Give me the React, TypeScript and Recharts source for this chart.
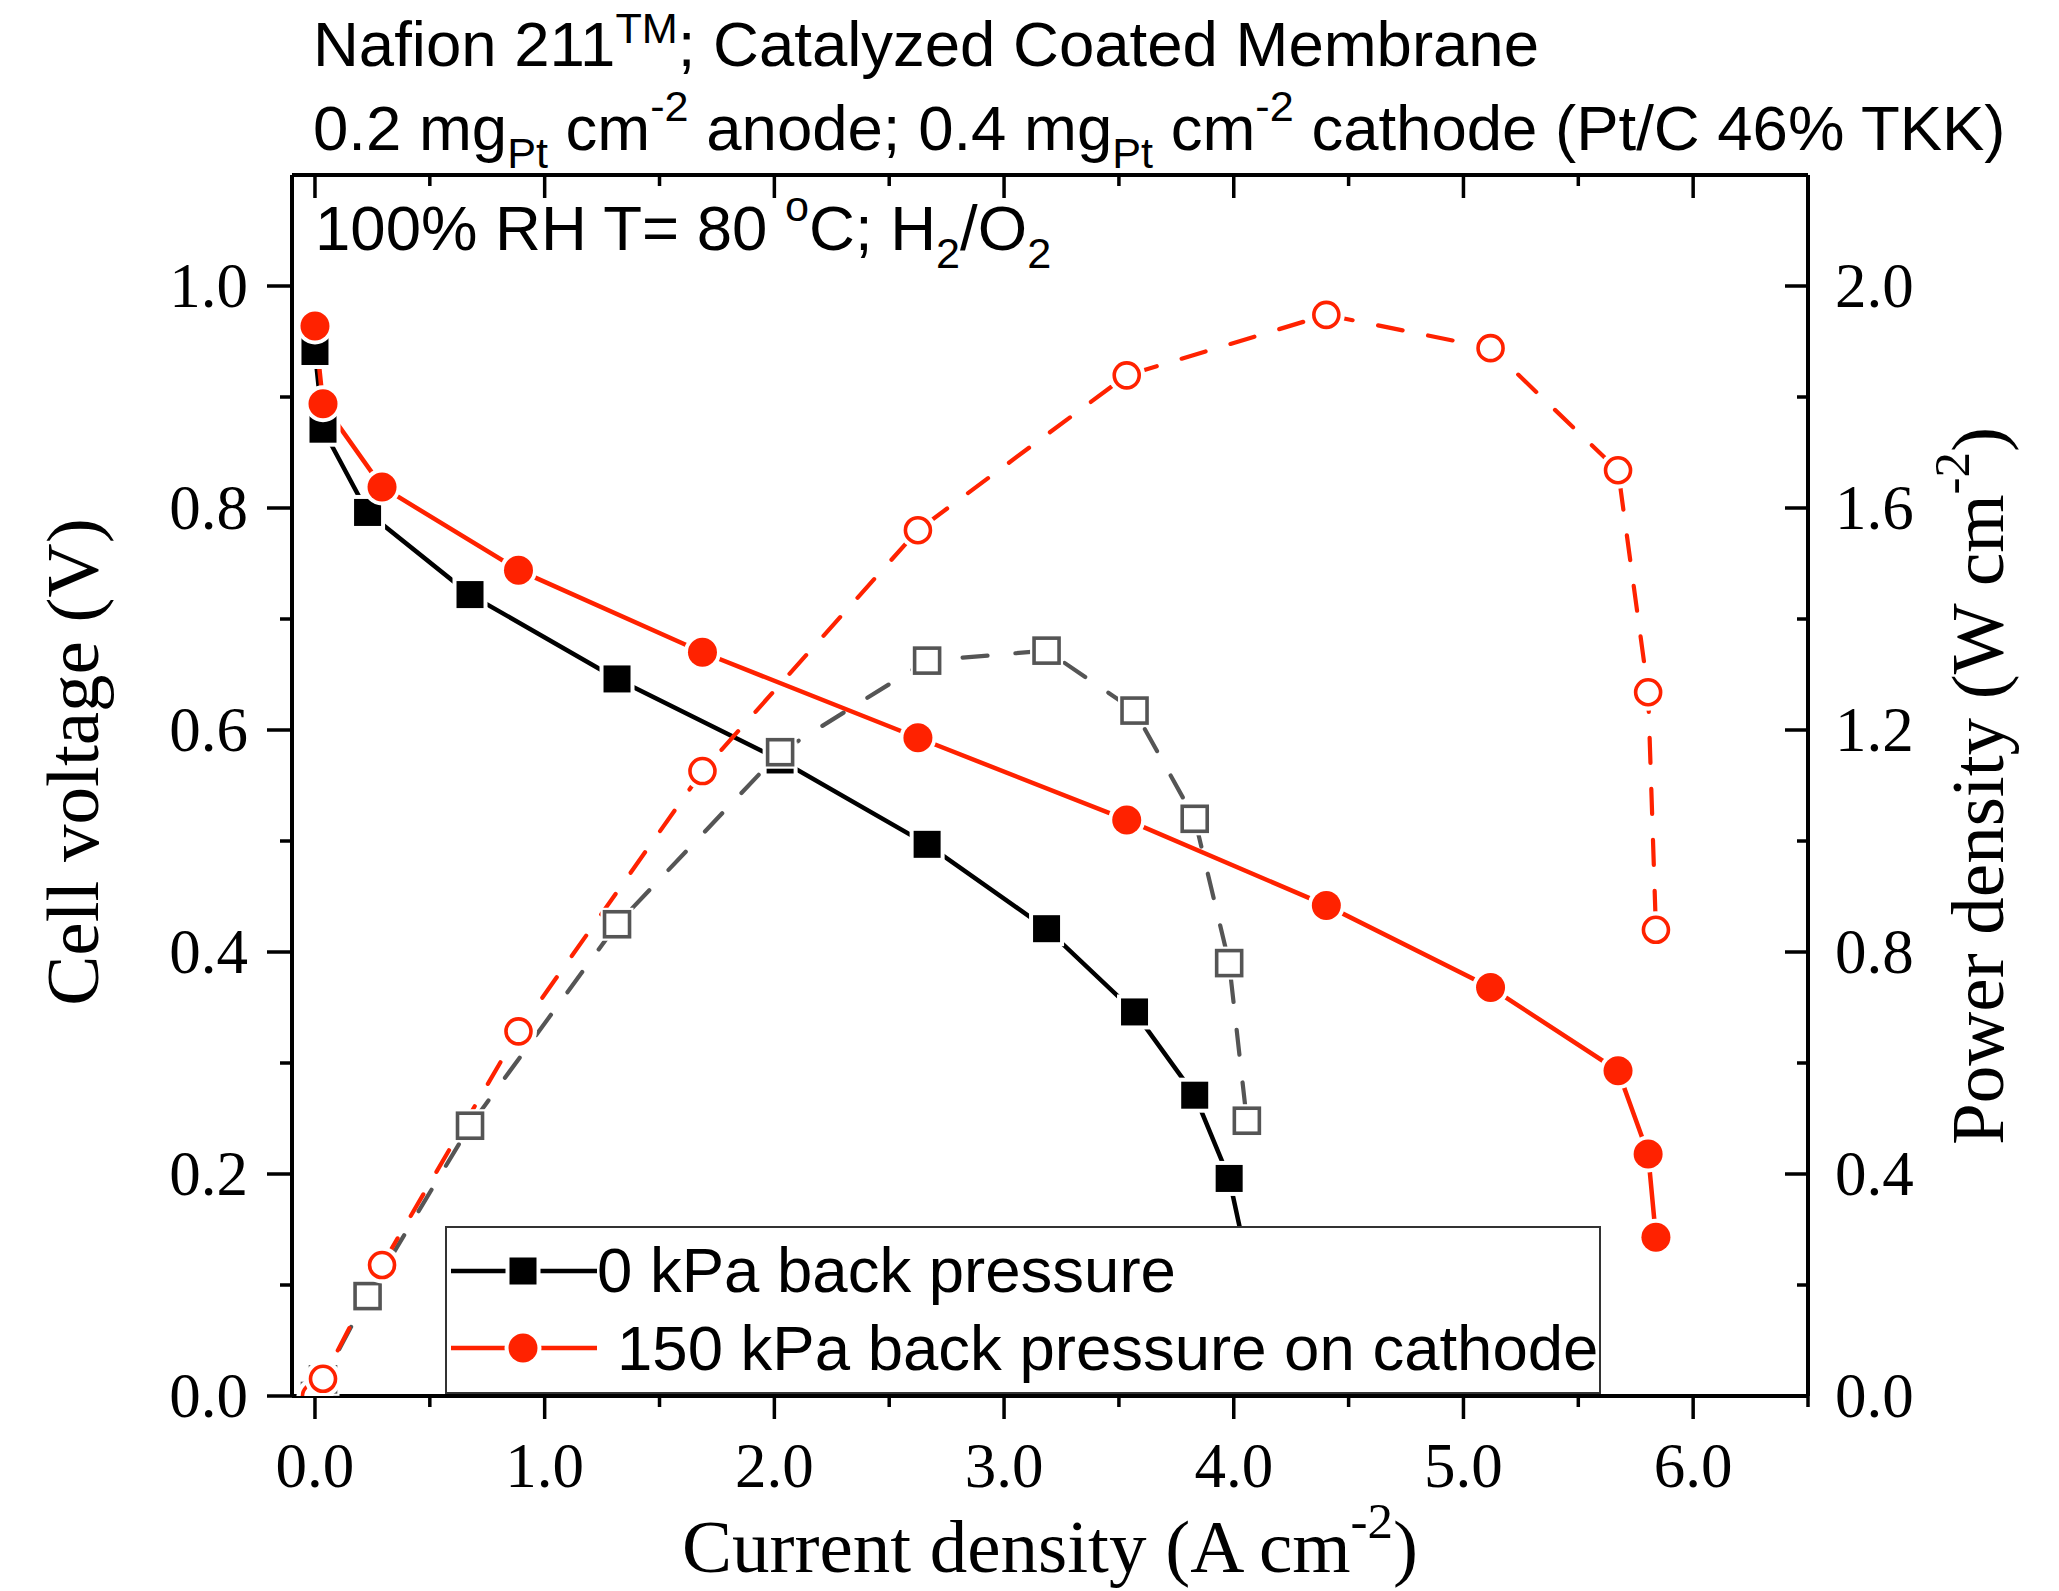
import React from 'react';
import { ComposedChart, Line, XAxis, YAxis } from 'recharts';

// 0 kPa back pressure
const iNoBP = [0, 0.035, 0.229, 0.675, 1.315, 2.025, 2.665, 3.185, 3.568, 3.83, 3.98, 4.057];
const vNoBP = [0.941, 0.871, 0.796, 0.722, 0.646, 0.573, 0.497, 0.421, 0.346, 0.271, 0.196, 0.122];
const pNoBP = [0, 0.03, 0.18, 0.487, 0.85, 1.16, 1.325, 1.343, 1.235, 1.04, 0.78, 0.496];

// 150 kPa back pressure on cathode
const iBP = [0, 0.035, 0.292, 0.886, 1.687, 2.625, 3.534, 4.403, 5.118, 5.673, 5.804, 5.838];
const vBP = [0.964, 0.894, 0.819, 0.744, 0.67, 0.593, 0.519, 0.442, 0.368, 0.293, 0.218, 0.143];
const pBP = [0, 0.031, 0.236, 0.657, 1.126, 1.56, 1.839, 1.948, 1.888, 1.668, 1.268, 0.84];

const xTicks = [0, 0.5, 1, 1.5, 2, 2.5, 3, 3.5, 4, 4.5, 5, 5.5, 6, 6.5];
const vTicks = [0, 0.1, 0.2, 0.3, 0.4, 0.5, 0.6, 0.7, 0.8, 0.9, 1.0];
const pTicks = [0, 0.2, 0.4, 0.6, 0.8, 1.0, 1.2, 1.4, 1.6, 1.8, 2.0];

const legendLabels = ['0 kPa back pressure', '150 kPa back pressure on cathode'];

const RED = '#ff2200';
const GREY = '#555555';
const SERIF = "'Liberation Serif', 'Times New Roman', serif";
const SANS = "'Liberation Sans', Arial, sans-serif";
const TXT = 63.5;

const rows = (xs: number[], ys: number[]) => xs.map((i, k) => ({ i, y: ys[k] }));

const TICK_W = 3.5;

function BottomTick(p: any) {
  const v = p.payload.value;
  const major = Math.abs(v - Math.round(v)) < 1e-6;
  return (
    <g>
      <line x1={p.x} y1={p.y} x2={p.x} y2={p.y + (major ? 23 : 11)} stroke="#000" strokeWidth={TICK_W} />
      {major && (
        <text x={p.x} y={p.y + 91} textAnchor="middle" fontFamily={SERIF} fontSize={63} fill="#000">
          {v.toFixed(1)}
        </text>
      )}
    </g>
  );
}

function TopTick(p: any) {
  const v = p.payload.value;
  const major = Math.abs(v - Math.round(v)) < 1e-6;
  return <line x1={p.x} y1={p.y} x2={p.x} y2={p.y + (major ? 23 : 11)} stroke="#000" strokeWidth={TICK_W} />;
}

function LeftTick(p: any) {
  const v = p.payload.value;
  const major = Math.round(v * 10) % 2 === 0;
  return (
    <g>
      <line x1={p.x - (major ? 25 : 12)} y1={p.y} x2={p.x} y2={p.y} stroke="#000" strokeWidth={TICK_W} />
      {major && (
        <text x={p.x - 44} y={p.y + 21} textAnchor="end" fontFamily={SERIF} fontSize={63} fill="#000">
          {v.toFixed(1)}
        </text>
      )}
    </g>
  );
}

function RightTick(p: any) {
  const v = p.payload.value;
  const major = Math.round(v * 10) % 4 === 0;
  return (
    <g>
      <line x1={p.x - (major ? 23 : 11)} y1={p.y} x2={p.x} y2={p.y} stroke="#000" strokeWidth={TICK_W} />
      {major && (
        <text x={p.x + 27} y={p.y + 21} textAnchor="start" fontFamily={SERIF} fontSize={63} fill="#000">
          {v.toFixed(1)}
        </text>
      )}
    </g>
  );
}

// markers with a small white halo so lines stop short of the symbols
const HALO = 4;
function FilledSquare({ cx, cy, color }: any) {
  const s = 27;
  return (
    <g>
      <rect x={cx - s / 2 - HALO} y={cy - s / 2 - HALO} width={s + 2 * HALO} height={s + 2 * HALO} fill="#fff" />
      <rect x={cx - s / 2} y={cy - s / 2} width={s} height={s} fill={color} />
    </g>
  );
}
function OpenSquare({ cx, cy, color }: any) {
  const s = 25;
  return (
    <g>
      <rect x={cx - s / 2 - HALO} y={cy - s / 2 - HALO} width={s + 2 * HALO} height={s + 2 * HALO} fill="#fff" />
      <rect x={cx - s / 2} y={cy - s / 2} width={s} height={s} fill="#fff" stroke={color} strokeWidth={3.6} />
    </g>
  );
}
function FilledCircle({ cx, cy, color }: any) {
  return (
    <g>
      <circle cx={cx} cy={cy} r={14.5 + HALO} fill="#fff" />
      <circle cx={cx} cy={cy} r={14.5} fill={color} />
    </g>
  );
}
function OpenCircle({ cx, cy, color }: any) {
  return (
    <g>
      <circle cx={cx} cy={cy} r={14.5 + HALO} fill="#fff" />
      <circle cx={cx} cy={cy} r={12.5} fill="#fff" stroke={color} strokeWidth={3.6} />
    </g>
  );
}

type Part = { t: string; k?: 'sup' | 'sub'; r?: number };
function rich(parts: Part[], size: number) {
  let cur = 0;
  return parts.map((p, idx) => {
    const target = p.k === 'sup' ? -(p.r ?? 0.45) * size : p.k === 'sub' ? 0.28 * size : 0;
    const dy = target - cur;
    cur = target;
    return (
      <tspan key={idx} dy={dy} fontSize={p.k ? size * 0.68 : size}>
        {p.t}
      </tspan>
    );
  });
}

const title1: Part[] = [{ t: 'Nafion 211' }, { t: 'TM', k: 'sup', r: 0.36 }, { t: '; Catalyzed Coated Membrane' }];
const title2: Part[] = [
  { t: '0.2 mg' }, { t: 'Pt', k: 'sub' }, { t: ' cm' }, { t: '-2', k: 'sup' },
  { t: ' anode; 0.4 mg' }, { t: 'Pt', k: 'sub' }, { t: ' cm' }, { t: '-2', k: 'sup' },
  { t: ' cathode (Pt/C 46% TKK)' },
];
const note: Part[] = [
  { t: '100% RH T= 80 ' }, { t: 'o', k: 'sup' }, { t: 'C; H' }, { t: '2', k: 'sub' }, { t: '/O' }, { t: '2', k: 'sub' },
];
const xTitle: Part[] = [{ t: 'Current density (A cm' }, { t: '-2', k: 'sup' }, { t: ')' }];
const yTitle: Part[] = [{ t: 'Cell voltage (V)' }];
const y2Title: Part[] = [{ t: 'Power density (W cm' }, { t: '-2', k: 'sup' }, { t: ')' }];

export default function App() {
  return (
    <div style={{ position: 'absolute', left: 0, top: 0, width: 2059, height: 1591, background: '#fff' }}>
      <ComposedChart width={2059} height={1591} margin={{ top: 174, right: 151, bottom: 95, left: 192 }}>
        <XAxis
          xAxisId="b"
          dataKey="i"
          type="number"
          domain={[-0.1, 6.5]}
          ticks={xTicks}
          interval={0}
          allowDataOverflow
          height={100}
          tickSize={0}
          tickMargin={0}
          tickLine={false}
          axisLine={{ stroke: '#000', strokeWidth: 4 }}
          tick={(p: any) => <BottomTick {...p} />}
        />
        <XAxis
          xAxisId="t"
          orientation="top"
          dataKey="i"
          type="number"
          domain={[-0.1, 6.5]}
          ticks={xTicks}
          interval={0}
          allowDataOverflow
          height={1}
          tickSize={0}
          tickMargin={0}
          tickLine={false}
          axisLine={{ stroke: '#000', strokeWidth: 4 }}
          tick={(p: any) => <TopTick {...p} />}
        />
        <YAxis
          yAxisId="v"
          orientation="left"
          type="number"
          domain={[0, 1.1]}
          ticks={vTicks}
          interval={0}
          allowDataOverflow
          width={100}
          tickSize={0}
          tickMargin={0}
          tickLine={false}
          axisLine={{ stroke: '#000', strokeWidth: 4 }}
          tick={(p: any) => <LeftTick {...p} />}
        />
        <YAxis
          yAxisId="p"
          orientation="right"
          type="number"
          domain={[0, 2.2]}
          ticks={pTicks}
          interval={0}
          allowDataOverflow
          width={100}
          tickSize={0}
          tickMargin={0}
          tickLine={false}
          axisLine={{ stroke: '#000', strokeWidth: 4 }}
          tick={(p: any) => <RightTick {...p} />}
        />
        <Line
          data={rows(iNoBP, vNoBP)}
          xAxisId="b"
          yAxisId="v"
          dataKey="y"
          type="linear"
          stroke="#000"
          strokeWidth={4.5}
          isAnimationActive={false}
          dot={(p: any) => <FilledSquare key={p.index} cx={p.cx} cy={p.cy} color="#000" />}
        />
        <Line
          data={rows(iNoBP, pNoBP)}
          xAxisId="b"
          yAxisId="p"
          dataKey="y"
          type="linear"
          stroke={GREY}
          strokeWidth={4.2}
          strokeDasharray="25 28"
          strokeLinecap="round"
          isAnimationActive={false}
          dot={(p: any) => <OpenSquare key={p.index} cx={p.cx} cy={p.cy} color={GREY} />}
        />
        <Line
          data={rows(iBP, vBP)}
          xAxisId="b"
          yAxisId="v"
          dataKey="y"
          type="linear"
          stroke={RED}
          strokeWidth={4.5}
          isAnimationActive={false}
          dot={(p: any) => <FilledCircle key={p.index} cx={p.cx} cy={p.cy} color={RED} />}
        />
        <Line
          data={rows(iBP, pBP)}
          xAxisId="b"
          yAxisId="p"
          dataKey="y"
          type="linear"
          stroke={RED}
          strokeWidth={4.2}
          strokeDasharray="25 26"
          strokeLinecap="round"
          isAnimationActive={false}
          dot={(p: any) => <OpenCircle key={p.index} cx={p.cx} cy={p.cy} color={RED} />}
        />
      </ComposedChart>

      <svg
        width={2059}
        height={1591}
        style={{ position: 'absolute', left: 0, top: 0, pointerEvents: 'none' }}
      >
        <text x={313} y={66} fontFamily={SANS} fontSize={TXT} fill="#000">
          {rich(title1, TXT)}
        </text>
        <text x={313} y={150} fontFamily={SANS} fontSize={TXT} fill="#000">
          {rich(title2, TXT)}
        </text>
        <text x={315} y={250} fontFamily={SANS} fontSize={TXT} fill="#000">
          {rich(note, TXT)}
        </text>

        <text x={1050} y={1572} textAnchor="middle" fontFamily={SERIF} fontSize={75} fill="#000">
          {rich(xTitle, 75)}
        </text>
        <text x={98} y={762} transform="rotate(-90 98 762)" textAnchor="middle" fontFamily={SERIF} fontSize={75} fill="#000">
          {rich(yTitle, 75)}
        </text>
        <text x={2003} y={786} transform="rotate(-90 2003 786)" textAnchor="middle" fontFamily={SERIF} fontSize={75} fill="#000">
          {rich(y2Title, 75)}
        </text>

        <g>
          <rect x={446} y={1227} width={1154} height={166} fill="#fff" stroke="#333" strokeWidth={2} />
          <line x1={451} y1={1271} x2={597} y2={1271} stroke="#000" strokeWidth={4.5} />
          <FilledSquare cx={523} cy={1271} color="#000" />
          <text x={597} y={1292} fontFamily={SANS} fontSize={TXT} fill="#000">
            {legendLabels[0]}
          </text>
          <line x1={451} y1={1348} x2={597} y2={1348} stroke={RED} strokeWidth={4.5} />
          <FilledCircle cx={523} cy={1348} color={RED} />
          <text x={617} y={1370} fontFamily={SANS} fontSize={TXT} fill="#000">
            {legendLabels[1]}
          </text>
        </g>
      </svg>
    </div>
  );
}
